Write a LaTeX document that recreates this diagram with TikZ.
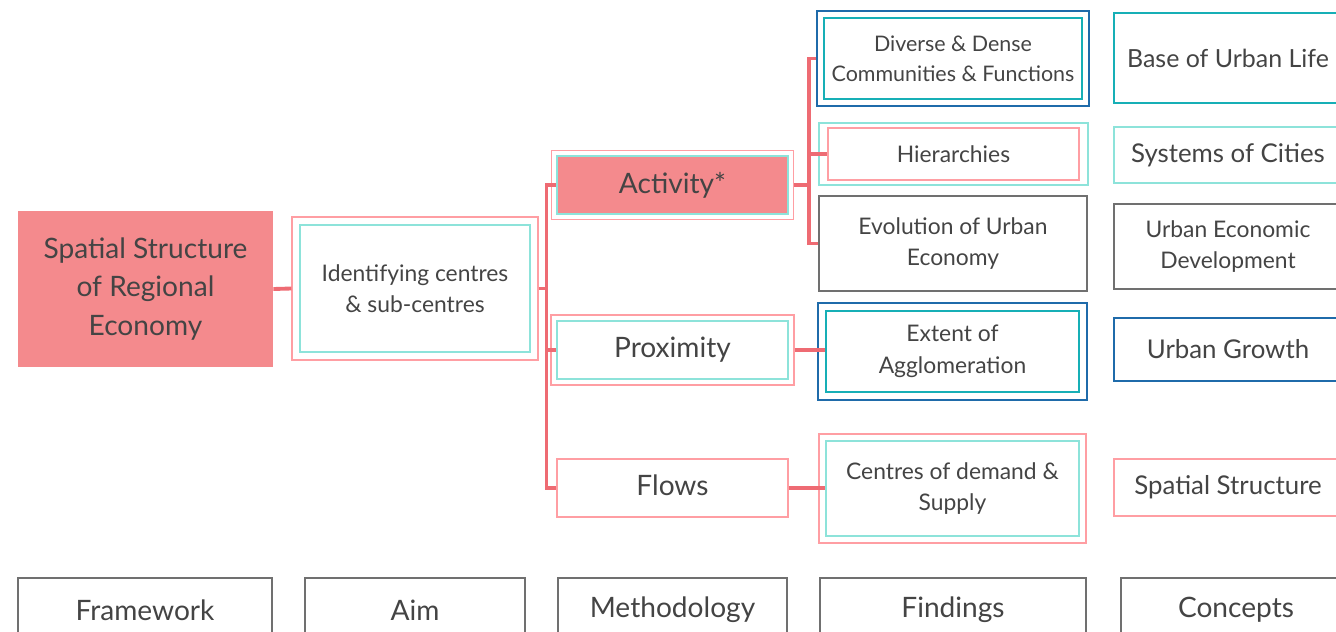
\documentclass[tikz,border=0pt]{standalone}
\usepackage{fontspec}
\setmainfont{Lato}
\usetikzlibrary{calc,positioning,fit}
\definecolor{salmon}{HTML}{F48A8D}
\definecolor{linkred}{HTML}{EE6B73}
\definecolor{softpink}{HTML}{FF9EA3}
\definecolor{softteal}{HTML}{8DE3DA}
\definecolor{deepteal}{HTML}{17AFB6}
\definecolor{deepblue}{HTML}{1F6BAA}
\definecolor{boxgrey}{HTML}{707070}
\definecolor{ink}{HTML}{444444}

\begin{document}
\begin{tikzpicture}[x=0.02cm,y=-0.02cm,
  box/.style={rectangle,draw,inner sep=0pt,align=center,text=ink},
  frame/.style={rectangle,draw=#1,line width=0.85pt,inner sep=0pt},
  link/.style={draw=linkred,line width=2.2pt},
  big/.style={font=\fontsize{16}{22}\selectfont},
  con/.style={font=\fontsize{14.7}{20}\selectfont},
  mid/.style={font=\fontsize{13}{18}\selectfont}]
\useasboundingbox (0,0) rectangle (1336,632);

% framework and aim
\node (frame) [box,draw=none,fill=salmon,minimum width=5.1cm,minimum height=3.12cm,big] at (145.5,289) {Spatial Structure\\of Regional\\Economy};
\node (aim) [box,draw=softteal,line width=1.5pt,minimum width=4.6cm,minimum height=2.54cm,mid] at (415,288.5) {Identifying centres\\\& sub-centres};
\node (aimO) [frame=softpink,inner sep=0.13cm,fit=(aim)] {};

% methodology
\node (act) [box,draw=softteal,line width=1.5pt,fill=salmon,minimum width=4.62cm,minimum height=1.16cm,big] at (672.5,185) {Activity*};
\node (actO) [frame=softpink,inner sep=0.08cm,fit=(act)] {};
\node (prox) [box,draw=softteal,line width=1.5pt,minimum width=4.62cm,minimum height=1.16cm,big] at (672.5,350) {\strut Proximity};
\node (proxO) [frame=softpink,inner sep=0.09cm,fit=(prox)] {};
\node (flows) [box,draw=softpink,line width=1pt,minimum width=4.62cm,minimum height=1.16cm,big] at (672.5,488) {\strut Flows};

% findings
\node (div) [box,draw=deepteal,line width=1.1pt,minimum width=5.16cm,minimum height=1.62cm,font=\fontsize{12.2}{17}\selectfont] at (953,58.5) {Diverse \& Dense\\Communities \& Functions};
\node (divO) [frame=deepblue,line width=1.1pt,inner sep=0.12cm,fit=(div)] {};
\node (hier) [box,draw=softpink,line width=1.1pt,minimum width=5.02cm,minimum height=1.04cm,mid] at (953.5,154) {Hierarchies};
\node (hierO) [frame=softteal,line width=1.1pt,inner xsep=0.17cm,inner ysep=0.08cm,fit=(hier)] {};
\node (evol) [box,draw=boxgrey,line width=0.9pt,minimum width=5.36cm,minimum height=1.9cm,mid] at (953,243.5) {Evolution of Urban\\Economy};
\node (ext) [box,draw=deepteal,line width=1.1pt,minimum width=5.06cm,minimum height=1.62cm,mid] at (952.5,351.5) {Extent of\\Agglomeration};
\node (extO) [frame=deepblue,line width=1.1pt,inner sep=0.15cm,fit=(ext)] {};
\node (cds) [box,draw=softteal,line width=1.1pt,minimum width=5.06cm,minimum height=1.9cm,mid] at (952.5,488.5) {Centres of demand \&\\Supply};
\node (cdsO) [frame=softpink,line width=1.1pt,inner sep=0.12cm,fit=(cds)] {};

% concepts
\node (base) [box,draw=deepteal,line width=1.5pt,minimum width=4.56cm,minimum height=1.8cm,font=\fontsize{14.2}{20}\selectfont] at (1228,58) {Base of Urban Life};
\node (sys) [box,draw=softteal,line width=1.5pt,minimum width=4.56cm,minimum height=1.12cm,con] at (1228,155) {Systems of Cities};
\node (ued) [box,draw=boxgrey,line width=1pt,minimum width=4.56cm,minimum height=1.7cm,mid] at (1228,246.5) {Urban Economic\\Development};
\node (grow) [box,draw=deepblue,line width=1.5pt,minimum width=4.56cm,minimum height=1.26cm,con] at (1228,349.5) {Urban Growth};
\node (spat) [box,draw=softpink,line width=1.5pt,minimum width=4.56cm,minimum height=1.14cm,con] at (1228,487.5) {Spatial Structure};

% column headings
\node (hFrame) [box,draw=boxgrey,line width=0.9pt,minimum width=5.08cm,minimum height=1.28cm,big] at (145,610) {Framework};
\node (hAim) [box,draw=boxgrey,line width=0.9pt,minimum width=4.4cm,minimum height=1.28cm,big] at (415,610) {Aim};
\node (hMeth) [box,draw=boxgrey,line width=0.9pt,minimum width=4.58cm,minimum height=1.28cm,big] at (672.5,610) {Methodology};
\node (hFind) [box,draw=boxgrey,line width=0.9pt,minimum width=5.32cm,minimum height=1.28cm,big] at (953,610) {Findings};
\node (hConc) [box,draw=boxgrey,line width=0.9pt,minimum width=4.6cm,minimum height=1.28cm,big] at (1236,610) {Concepts};

% connectors
\draw [link] (frame.east) -- (aimO.west);
\draw [link] (aimO.east) -- ++(8,0) coordinate (mj);
\draw [link] (mj) |- (act.west);
\draw [link] (mj) |- (prox.west);
\draw [link] (mj) |- (flows.west);
\draw [link] (actO.east) -- ++(15,0) coordinate (fj);
\draw [link] (fj) |- (divO.west);
\draw [link] (fj) |- (hier.west);
\draw [link] (fj) |- (evol.west);
\draw [link] (proxO.east) -- (proxO.east -| ext.west);
\draw [link] (flows.east) -- (flows.east -| cds.west);
\end{tikzpicture}
\end{document}
